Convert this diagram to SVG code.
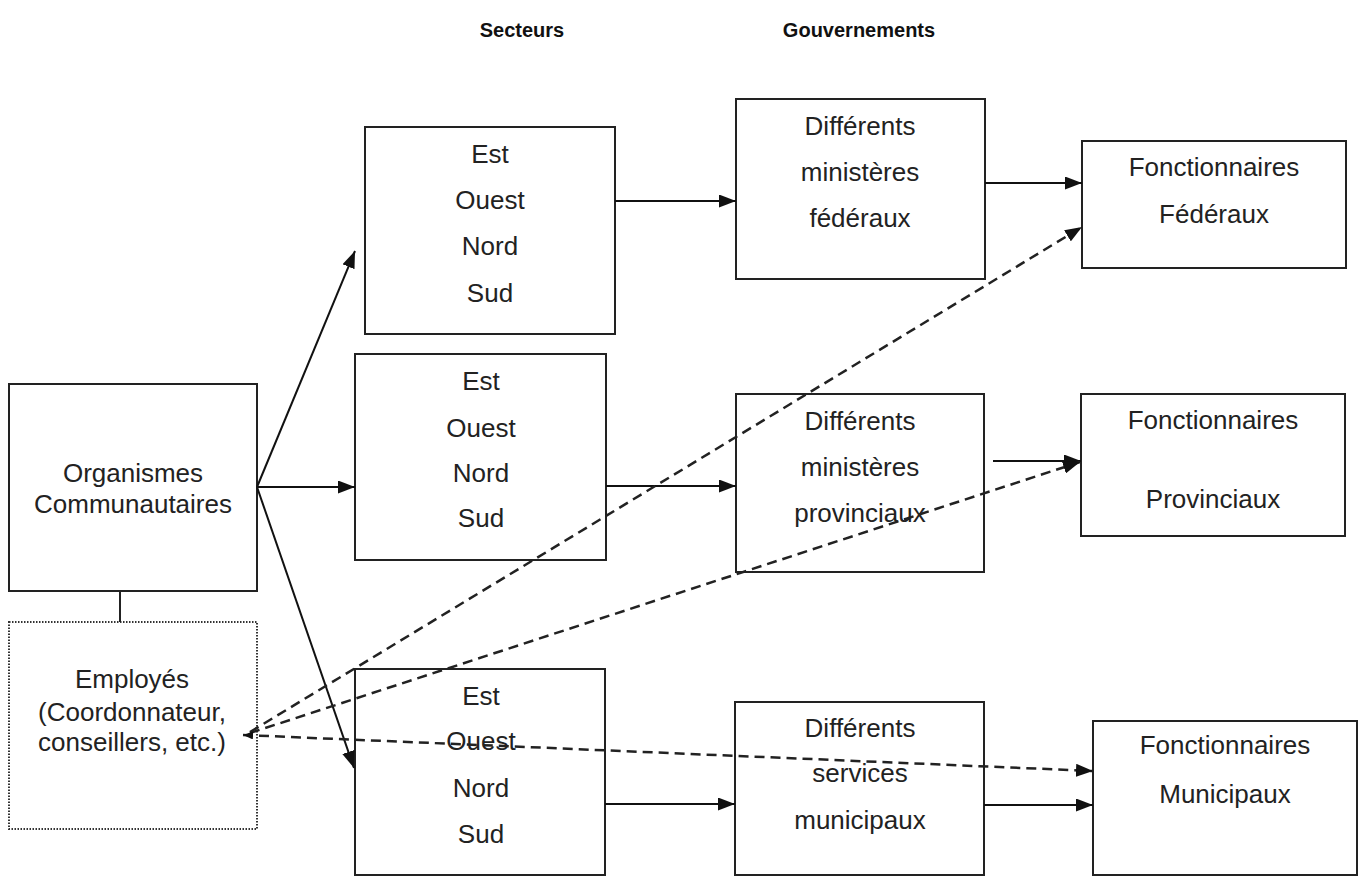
<svg xmlns="http://www.w3.org/2000/svg" width="1364" height="877" viewBox="0 0 1364 877">
  <style>
    .box { fill: #ffffff; stroke: #222222; stroke-width: 2; }
    .dotted { fill: #ffffff; stroke: #333333; stroke-width: 2; stroke-dasharray: 1.5 1.5; }
    .lbl { font-family: "Liberation Sans", Arial, sans-serif; font-size: 26px; fill: #222222; text-anchor: middle; }
    .hdr { font-family: "Liberation Sans", Arial, sans-serif; font-size: 20px; font-weight: bold; fill: #111111; text-anchor: middle; }
    .solid { fill: none; stroke: #111111; stroke-width: 2; }
    .dash { fill: none; stroke: #222222; stroke-width: 2.5; stroke-dasharray: 10 6; }
    .plain { fill: none; stroke: #222222; stroke-width: 2; }
  </style>
  <defs>
    <marker id="arrow" viewBox="0 0 17 13" refX="17" refY="6.5" markerWidth="17" markerHeight="13" markerUnits="userSpaceOnUse" orient="auto">
      <path d="M0,0 L17,6.5 L0,13 Z" fill="#111111"/>
    </marker>
    <marker id="arrowSmall" viewBox="0 0 10 8" refX="10" refY="4" markerWidth="10" markerHeight="8" markerUnits="userSpaceOnUse" orient="auto-start-reverse">
      <path d="M0,0 L10,4 L0,8 Z" fill="#111111"/>
    </marker>
  </defs>

  <rect width="1364" height="877" fill="#ffffff"/>

  <!-- column headings -->
  <g id="headers">
    <text class="hdr" x="522" y="37">Secteurs</text>
    <text class="hdr" x="859" y="37">Gouvernements</text>
  </g>

  <!-- community organisations -->
  <g id="organismes">
    <rect class="box" x="9" y="384" width="248" height="207"/>
    <text class="lbl" x="133" y="482">Organismes</text>
    <text class="lbl" x="133" y="513">Communautaires</text>
  </g>

  <g id="employes">
    <rect class="dotted" x="9" y="622" width="248" height="207"/>
    <text class="lbl" x="132" y="688">Employés</text>
    <text class="lbl" x="132" y="721">(Coordonnateur,</text>
    <text class="lbl" x="132" y="751">conseillers, etc.)</text>
  </g>

  <!-- sectors -->
  <g id="secteur-1">
    <rect class="box" x="365" y="127" width="250" height="207"/>
    <text class="lbl" x="490" y="163">Est</text>
    <text class="lbl" x="490" y="209">Ouest</text>
    <text class="lbl" x="490" y="255">Nord</text>
    <text class="lbl" x="490" y="302">Sud</text>
  </g>
  <g id="secteur-2">
    <rect class="box" x="355" y="354" width="251" height="206"/>
    <text class="lbl" x="481" y="390">Est</text>
    <text class="lbl" x="481" y="437">Ouest</text>
    <text class="lbl" x="481" y="482">Nord</text>
    <text class="lbl" x="481" y="527">Sud</text>
  </g>
  <g id="secteur-3">
    <rect class="box" x="355" y="669" width="250" height="206"/>
    <text class="lbl" x="481" y="705">Est</text>
    <text class="lbl" x="481" y="750">Ouest</text>
    <text class="lbl" x="481" y="797">Nord</text>
    <text class="lbl" x="481" y="843">Sud</text>
  </g>

  <!-- government departments -->
  <g id="gouv-federal">
    <rect class="box" x="736" y="99" width="249" height="180"/>
    <text class="lbl" x="860" y="135">Différents</text>
    <text class="lbl" x="860" y="181">ministères</text>
    <text class="lbl" x="860" y="227">fédéraux</text>
  </g>
  <g id="gouv-provincial">
    <rect class="box" x="736" y="394" width="248" height="178"/>
    <text class="lbl" x="860" y="430">Différents</text>
    <text class="lbl" x="860" y="476">ministères</text>
    <text class="lbl" x="860" y="522">provinciaux</text>
  </g>
  <g id="gouv-municipal">
    <rect class="box" x="735" y="702" width="249" height="173"/>
    <text class="lbl" x="860" y="737">Différents</text>
    <text class="lbl" x="860" y="782">services</text>
    <text class="lbl" x="860" y="829">municipaux</text>
  </g>

  <!-- civil servants -->
  <g id="fonct-federaux">
    <rect class="box" x="1082" y="141" width="264" height="127"/>
    <text class="lbl" x="1214" y="176">Fonctionnaires</text>
    <text class="lbl" x="1214" y="223">Fédéraux</text>
  </g>
  <g id="fonct-provinciaux">
    <rect class="box" x="1081" y="394" width="264" height="142"/>
    <text class="lbl" x="1213" y="429">Fonctionnaires</text>
    <text class="lbl" x="1213" y="508">Provinciaux</text>
  </g>
  <g id="fonct-municipaux">
    <rect class="box" x="1093" y="721" width="264" height="154"/>
    <text class="lbl" x="1225" y="754">Fonctionnaires</text>
    <text class="lbl" x="1225" y="803">Municipaux</text>
  </g>

  <!-- connectors -->
  <g id="connectors">
    <line class="plain" x1="120" y1="591" x2="120" y2="622"/>

    <line class="solid" x1="257" y1="487" x2="355" y2="251" marker-end="url(#arrow)"/>
    <line class="solid" x1="257" y1="487" x2="355" y2="487" marker-end="url(#arrow)"/>
    <line class="solid" x1="257" y1="487" x2="354" y2="768" marker-end="url(#arrow)"/>

    <line class="solid" x1="615" y1="201" x2="736" y2="201" marker-end="url(#arrow)"/>
    <line class="solid" x1="606" y1="486" x2="736" y2="486" marker-end="url(#arrow)"/>
    <line class="solid" x1="605" y1="804" x2="735" y2="804" marker-end="url(#arrow)"/>

    <line class="solid" x1="985" y1="183" x2="1082" y2="183" marker-end="url(#arrow)"/>
    <line class="solid" x1="993" y1="461" x2="1081" y2="461" marker-end="url(#arrow)"/>
    <line class="solid" x1="984" y1="805" x2="1093" y2="805" marker-end="url(#arrow)"/>

    <line class="dash" x1="250" y1="732" x2="1082" y2="227" marker-end="url(#arrow)"/>
    <line class="dash" x1="250" y1="733" x2="1080" y2="462" marker-end="url(#arrow)"/>
    <line class="dash" x1="243" y1="735" x2="1093" y2="771" marker-start="url(#arrowSmall)" marker-end="url(#arrow)"/>
  </g>
</svg>
